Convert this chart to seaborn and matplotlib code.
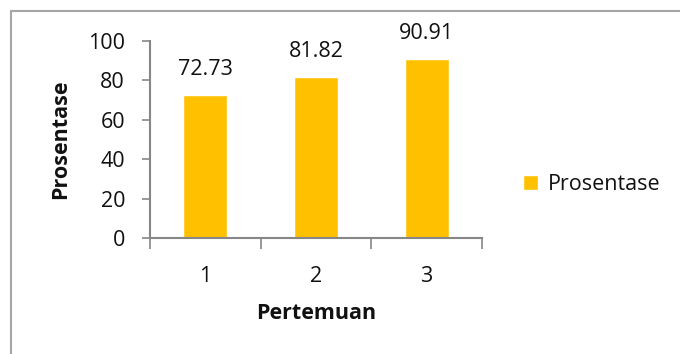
import numpy as np
import pandas as pd
import seaborn as sns
import matplotlib.pyplot as plt
from matplotlib.patches import Rectangle

# Data
pertemuan = ["1", "2", "3"]
prosentase = [72.73, 81.82, 90.91]
y_ticks = [0, 20, 40, 60, 80, 100]

data = pd.DataFrame({"Pertemuan": pertemuan, "Prosentase": prosentase})

sns.set_style("white")
plt.rcParams["font.family"] = ["Open Sans", "DejaVu Sans"]
fs = 15.5

fig = plt.figure(figsize=(6.8, 3.54), dpi=100)
ax = fig.add_axes([150 / 680, 1 - 238 / 354, 332 / 680, 197 / 354])

# Outer chart border (cut off at right and bottom)
fig.patches.append(Rectangle((10.5 / 680, -0.1), 1.2, 1 - 11.5 / 354 + 0.1,
                             transform=fig.transFigure, fill=False,
                             edgecolor="#a6a6a6", linewidth=1.5))

sns.barplot(x="Pertemuan", y="Prosentase", data=data, order=pertemuan,
            color="#FFC000", width=0.4, saturation=1, label="Prosentase", ax=ax)

# Data labels above bars
for i, v in enumerate(prosentase):
    ax.text(i, v + 7.5, f"{v:.2f}", ha="center", va="bottom", fontsize=fs, color="#111111")

ax.set_xlim(-0.5, 2.5)
ax.set_ylim(0, 100)
ax.set_yticks(y_ticks)
ax.tick_params(axis="y", length=6, width=1.2, color="#868686", labelsize=fs,
               direction="out", pad=12, left=True, labelcolor="#111111")
ax.tick_params(axis="x", length=0, labelsize=fs, pad=20, labelcolor="#111111")
ax.set_xticks([-0.5, 0.5, 1.5, 2.5], minor=True)
ax.tick_params(axis="x", which="minor", length=8, width=1.2, color="#868686",
               direction="out", bottom=True)

for side in ["top", "right"]:
    ax.spines[side].set_visible(False)
for side in ["left", "bottom"]:
    ax.spines[side].set_color("#868686")
    ax.spines[side].set_linewidth(1.5)

ax.set_xlabel("Pertemuan", fontsize=fs, fontweight="bold", labelpad=12, color="#111111")
ax.set_ylabel("Prosentase", fontsize=fs, fontweight="bold", labelpad=12, color="#111111")

ax.legend(loc="center left", bbox_to_anchor=(1.124, 0.27), frameon=False,
          fontsize=fs, handlelength=0.7, handleheight=0.7, handletextpad=0.45,
          borderpad=0, borderaxespad=0, labelcolor="#111111")

fig.savefig("out.png", dpi=100)
